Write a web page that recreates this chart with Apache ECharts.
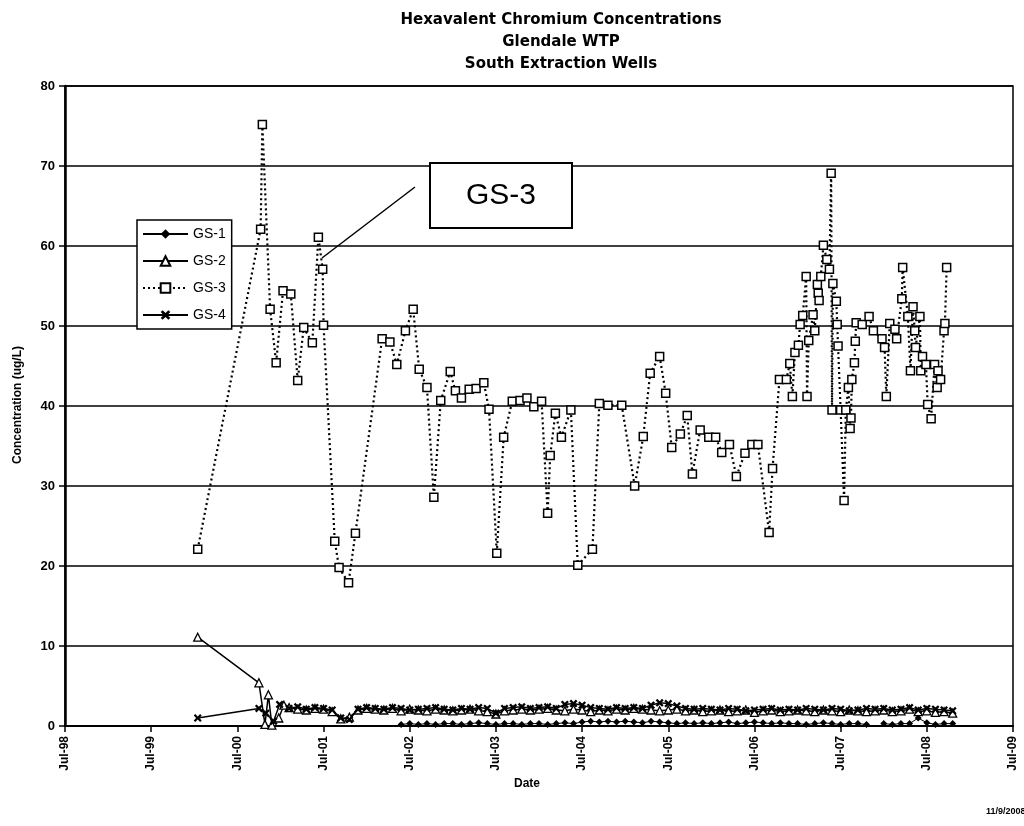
<!DOCTYPE html>
<html><head><meta charset="utf-8">
<script src="https://cdn.jsdelivr.net/npm/echarts@6/dist/echarts.min.js"></script>
<style>html,body{margin:0;padding:0;background:#fff}#c{width:1024px;height:826px}</style>
</head><body><div id="c"></div><script>
// x values are decimal years (Jul-98 = 1998.5)
const xTickLabelPrefix = 'Jul-';

const gs3Dates = [2000.04, 2000.77, 2000.79, 2000.88, 2000.95, 2001.03, 2001.12, 2001.20, 2001.27, 2001.37,
  2001.44, 2001.49, 2001.50, 2001.63, 2001.68, 2001.79, 2001.87, 2002.18, 2002.27, 2002.35,
  2002.45, 2002.54, 2002.61, 2002.70, 2002.78, 2002.86, 2002.97, 2003.03, 2003.10, 2003.19,
  2003.27, 2003.36, 2003.42, 2003.51, 2003.59, 2003.69, 2003.78, 2003.86, 2003.94, 2004.03,
  2004.10, 2004.13, 2004.19, 2004.26, 2004.37, 2004.45, 2004.62, 2004.70, 2004.80, 2004.96,
  2005.11, 2005.21, 2005.29, 2005.40, 2005.47, 2005.54, 2005.64, 2005.72, 2005.78, 2005.87,
  2005.97, 2006.05, 2006.12, 2006.21, 2006.29, 2006.39, 2006.47, 2006.54, 2006.67, 2006.71,
  2006.79, 2006.87, 2006.91, 2006.94, 2006.97, 2007.01, 2007.03, 2007.06, 2007.10, 2007.11,
  2007.13, 2007.18, 2007.20, 2007.23, 2007.24, 2007.25, 2007.27, 2007.30, 2007.34, 2007.37,
  2007.39, 2007.40, 2007.41, 2007.45, 2007.46, 2007.47, 2007.50, 2007.54, 2007.56, 2007.59,
  2007.61, 2007.62, 2007.63, 2007.66, 2007.67, 2007.68, 2007.75, 2007.83, 2007.88, 2007.98,
  2008.01, 2008.03, 2008.07, 2008.13, 2008.15, 2008.21, 2008.22, 2008.28, 2008.31, 2008.34,
  2008.36, 2008.37, 2008.42, 2008.43, 2008.45, 2008.49, 2008.51, 2008.55, 2008.59, 2008.62,
  2008.63, 2008.66, 2008.70, 2008.71, 2008.73];
const gs3Values = [22.1, 62.1, 75.2, 52.1, 45.4, 54.4, 54.0, 43.2, 49.8, 47.9,
  61.1, 57.1, 50.1, 23.1, 19.8, 17.9, 24.1, 48.4, 48.0, 45.2,
  49.4, 52.1, 44.6, 42.3, 28.6, 40.7, 44.3, 41.9, 41.0, 42.1,
  42.2, 42.9, 39.6, 21.6, 36.1, 40.6, 40.7, 41.0, 39.9, 40.6,
  26.6, 33.8, 39.1, 36.1, 39.5, 20.1, 22.1, 40.3, 40.1, 40.1,
  30.0, 36.2, 44.1, 46.2, 41.6, 34.8, 36.5, 38.8, 31.5, 37.0,
  36.1, 36.1, 34.2, 35.2, 31.2, 34.1, 35.2, 35.2, 24.2, 32.2,
  43.3, 43.3, 45.3, 41.2, 46.7, 47.6, 50.2, 51.3, 56.2, 41.2,
  48.2, 51.4, 49.4, 55.2, 54.1, 53.2, 56.2, 60.1, 58.3, 57.1,
  69.1, 39.5, 55.3, 53.1, 50.2, 47.5, 39.5, 28.2, 39.5, 42.3,
  37.2, 38.5, 43.3, 45.4, 48.1, 50.4, 50.2, 51.2, 49.4, 48.4,
  47.3, 41.2, 50.3, 49.6, 48.4, 53.4, 57.3, 51.2, 44.4, 52.4,
  49.4, 47.3, 51.2, 44.4, 46.2, 45.2, 40.2, 38.4, 45.2, 42.3,
  44.4, 43.3, 49.4, 50.3, 57.3];

// early samples of GS-2 and GS-4
const gs2EarlyDates = [2000.04, 2000.75, 2000.82, 2000.86, 2000.90, 2000.98, 2001.04];
const gs2EarlyValues = [11.1, 5.4, 0.2, 3.9, 0.1, 1.0, 2.6];
const gs4EarlyDates = [2000.04, 2000.75, 2000.83, 2000.92, 2000.99];
const gs4EarlyValues = [1.0, 2.2, 1.6, 0.6, 2.7];

// regular samples for the low-concentration wells
const lowDates = [2001.1, 2001.2, 2001.3, 2001.4, 2001.5, 2001.6, 2001.7, 2001.8, 2001.9,
  2002.0, 2002.1, 2002.2, 2002.3, 2002.4, 2002.5, 2002.6, 2002.7, 2002.8, 2002.9,
  2003.0, 2003.1, 2003.2, 2003.3, 2003.4, 2003.5, 2003.6, 2003.7, 2003.8, 2003.9,
  2004.0, 2004.1, 2004.2, 2004.3, 2004.4, 2004.5, 2004.6, 2004.7, 2004.8, 2004.9,
  2005.0, 2005.1, 2005.2, 2005.3, 2005.4, 2005.5, 2005.6, 2005.7, 2005.8, 2005.9,
  2006.0, 2006.1, 2006.2, 2006.3, 2006.4, 2006.5, 2006.6, 2006.7, 2006.8, 2006.9,
  2007.0, 2007.1, 2007.2, 2007.3, 2007.4, 2007.5, 2007.6, 2007.7, 2007.8, 2007.9,
  2008.0, 2008.1, 2008.2, 2008.3, 2008.4, 2008.5, 2008.6, 2008.7, 2008.8];
const gs1Values = [null, null, null, null, null, null, null, null, null,
  null, null, null, null, 0.2, 0.3, 0.2, 0.3, 0.2, 0.3,
  0.3, 0.2, 0.3, 0.4, 0.3, 0.2, 0.3, 0.3, 0.2, 0.3,
  0.3, 0.2, 0.3, 0.4, 0.3, 0.5, 0.6, 0.5, 0.6, 0.5,
  0.6, 0.5, 0.4, 0.6, 0.5, 0.4, 0.3, 0.4, 0.3, 0.4,
  0.3, 0.4, 0.5, 0.3, 0.4, 0.5, 0.4, 0.3, 0.4, 0.3,
  0.3, 0.2, 0.3, 0.4, 0.3, 0.2, 0.3, 0.3, 0.2, null,
  0.3, 0.2, 0.3, 0.3, 1.0, 0.4, 0.2, 0.3, 0.3];
const gs2Values = [2.3, 2.1, 2.0, 2.2, 2.1, 1.8, 0.9, 1.1, 2.0,
  2.2, 2.1, 2.0, 2.2, 1.9, 2.1, 2.0, 1.9, 2.1, 2.0,
  1.9, 2.0, 2.1, 1.9, 1.8, 1.5, 1.9, 2.0, 2.1, 2.0,
  2.1, 2.2, 2.0, 1.9, 2.1, 2.0, 1.8, 2.0, 1.9, 2.1,
  2.0, 2.2, 2.1, 2.0, 1.9, 2.0, 2.1, 1.9, 2.0, 1.8,
  1.9, 2.0, 1.8, 1.9, 2.0, 1.7, 1.9, 2.0, 1.8, 1.9,
  2.0, 1.9, 1.8, 2.0, 1.9, 1.8, 2.0, 1.9, 1.8, 1.9,
  2.0, 1.8, 1.9, 2.1, 1.8, 1.9, 1.7, 1.8, 1.6];
const gs4Values = [2.2, 2.4, 2.1, 2.3, 2.2, 2.0, 1.0, 0.8, 2.1,
  2.3, 2.2, 2.1, 2.3, 2.2, 2.0, 2.1, 2.2, 2.3, 2.1,
  2.0, 2.2, 2.1, 2.3, 2.2, 1.6, 2.2, 2.3, 2.4, 2.2,
  2.3, 2.4, 2.2, 2.7, 2.8, 2.6, 2.3, 2.2, 2.1, 2.3,
  2.2, 2.3, 2.2, 2.6, 2.9, 2.8, 2.5, 2.2, 2.1, 2.2,
  2.1, 2.0, 2.2, 2.1, 1.9, 2.0, 2.1, 2.2, 2.0, 2.1,
  2.0, 2.2, 2.1, 2.0, 2.2, 2.1, 1.9, 2.0, 2.2, 2.1,
  2.2, 2.0, 2.1, 2.3, 2.0, 2.2, 2.1, 2.0, 1.9];

const pairs = (xs, ys) => xs.map((x, i) => [x, ys[i]]);
const gs1Data = pairs(lowDates, gs1Values);
const gs2Data = pairs(gs2EarlyDates, gs2EarlyValues).concat(pairs(lowDates, gs2Values));
const gs4Data = pairs(gs4EarlyDates, gs4EarlyValues).concat(pairs(lowDates, gs4Values));
const gs3Data = pairs(gs3Dates, gs3Values);

const FONT = 'Liberation Sans, Arial, sans-serif';
const xSymbol = 'path://M2,0 L5,3 L8,0 L10,2 L7,5 L10,8 L8,10 L5,7 L2,10 L0,8 L3,5 L0,2 Z';

const chart = echarts.init(document.getElementById('c'), null, {renderer: 'canvas'});
chart.setOption({
  animation: false,
  backgroundColor: '#fff',
  grid: {left: 65, right: 11, top: 86, bottom: 100, show: true, borderColor: '#000', borderWidth: 1.5, backgroundColor: 'transparent'},
  legend: {
    data: ['GS-1', 'GS-2', 'GS-3', 'GS-4'],
    orient: 'vertical', left: 137, top: 220,
    itemWidth: 45, itemHeight: 12, itemGap: 13,
    padding: [7, 6, 7, 5],
    borderColor: '#000', borderWidth: 1.5, backgroundColor: '#fff',
    textStyle: {fontFamily: FONT, fontSize: 14, color: '#000'}
  },
  xAxis: {
    type: 'value', min: 1998.5, max: 2009.5, interval: 1,
    axisLine: {onZero: false, lineStyle: {color: '#000', width: 2}},
    axisTick: {show: true, length: 6, lineStyle: {color: '#000', width: 1.5}},
    splitLine: {show: false},
    axisLabel: {
      rotate: 90, margin: 10, color: '#000', fontFamily: FONT, fontWeight: 'bold', fontSize: 12,
      showMinLabel: true, showMaxLabel: true,
      formatter: v => xTickLabelPrefix + String(Math.round(v - 0.5)).slice(2)
    }
  },
  yAxis: {
    type: 'value', min: 0, max: 80, interval: 10,
    axisLine: {show: true, lineStyle: {color: '#000', width: 2.5}},
    axisTick: {show: true, length: 6, lineStyle: {color: '#000', width: 1.5}},
    splitLine: {show: true, lineStyle: {color: '#000', width: 1.5}},
    axisLabel: {margin: 10, color: '#000', fontFamily: FONT, fontWeight: 'bold', fontSize: 13}
  },
  series: [
    {name: 'GS-1', type: 'line', data: gs1Data, symbol: 'diamond', symbolSize: 7,
      itemStyle: {color: '#000'}, lineStyle: {color: '#000', width: 1}, z: 3},
    {name: 'GS-2', type: 'line', data: gs2Data, symbol: 'triangle', symbolSize: 8,
      itemStyle: {color: '#fff', borderColor: '#000', borderWidth: 1.3}, lineStyle: {color: '#000', width: 1.5}, z: 3},
    {name: 'GS-3', type: 'line', data: gs3Data, symbol: 'rect', symbolSize: 8,
      itemStyle: {color: '#fff', borderColor: '#000', borderWidth: 1.5}, lineStyle: {color: '#000', width: 2.2, type: [2, 3]}, z: 4},
    {name: 'GS-4', type: 'line', data: gs4Data, symbol: xSymbol, symbolSize: 8,
      itemStyle: {color: '#000'}, lineStyle: {color: '#000', width: 1.5}, z: 3}
  ],
  graphic: [
    {type: 'text', x: 561, y: 9, z: 10, style: {
      text: 'Hexavalent Chromium Concentrations\nGlendale WTP\nSouth Extraction Wells',
      fontFamily: 'DejaVu Sans', fontWeight: 'bold', fontSize: 15, lineHeight: 22,
      textAlign: 'center', textVerticalAlign: 'top', fill: '#000'}},
    {type: 'text', x: 18, y: 405, rotation: Math.PI / 2, z: 10, style: {
      text: 'Concentration (ug/L)', fontFamily: FONT, fontWeight: 'bold', fontSize: 12,
      textAlign: 'center', textVerticalAlign: 'middle', fill: '#000'}},
    {type: 'text', x: 527, y: 784, z: 10, style: {
      text: 'Date', fontFamily: FONT, fontWeight: 'bold', fontSize: 12,
      textAlign: 'center', textVerticalAlign: 'middle', fill: '#000'}},
    {type: 'text', x: 986, y: 812, z: 10, style: {
      text: '11/9/2008', fontFamily: FONT, fontWeight: 'bold', fontSize: 9,
      textAlign: 'left', textVerticalAlign: 'middle', fill: '#000'}},
    {type: 'line', z: 10, shape: {x1: 415, y1: 187, x2: 322, y2: 258}, style: {stroke: '#000', lineWidth: 1.5}},
    {type: 'rect', z: 10, shape: {x: 430, y: 163, width: 142, height: 65}, style: {fill: '#fff', stroke: '#000', lineWidth: 2}},
    {type: 'text', x: 501, y: 196, z: 11, style: {
      text: 'GS-3', fontFamily: FONT, fontSize: 30, textAlign: 'center', textVerticalAlign: 'middle', fill: '#000'}}
  ]
});
</script></body></html>
